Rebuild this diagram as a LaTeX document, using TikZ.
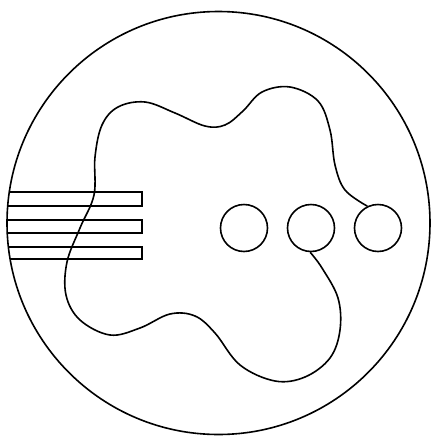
\documentclass[tikz,border=0pt]{standalone}
\begin{document}
\begin{tikzpicture}[x=1pt,y=-1pt,line width=1.6pt,
  hole/.style={draw,circle,minimum size=47pt,inner sep=0pt,line width=1.6pt}]
\useasboundingbox (0,0) rectangle (431,437);
\draw (218.5,223) circle (211.5);

\begin{scope}
\clip (218.5,223) circle (211.5);
\draw (0,192) rectangle (142,206);
\draw (0,220) rectangle (142,233);
\draw (0,247) rectangle (142,259);
\end{scope}

\node[hole] (c1) at (244,228) {};
\node[hole] (c2) at (311,228) {};
\node[hole] (c3) at (378,228) {};

\draw plot[smooth,tension=0.6] coordinates {(c3.116) (345,190) (335,165) (330,130)
  (318,101) (290,87) (262,92) (243,111) (225,125) (205,126) (175,113) (145,102)
  (118,107) (102,125) (95,157) (94,195) (80,228) (67,262) (66,295) (80,320)
  (110,335) (140,328) (170,314) (195,316) (215,333) (240,365) (275,381) (305,377)
  (330,358) (340,330) (338,298) (322,268) (c2.268)};
\end{tikzpicture}
\end{document}
